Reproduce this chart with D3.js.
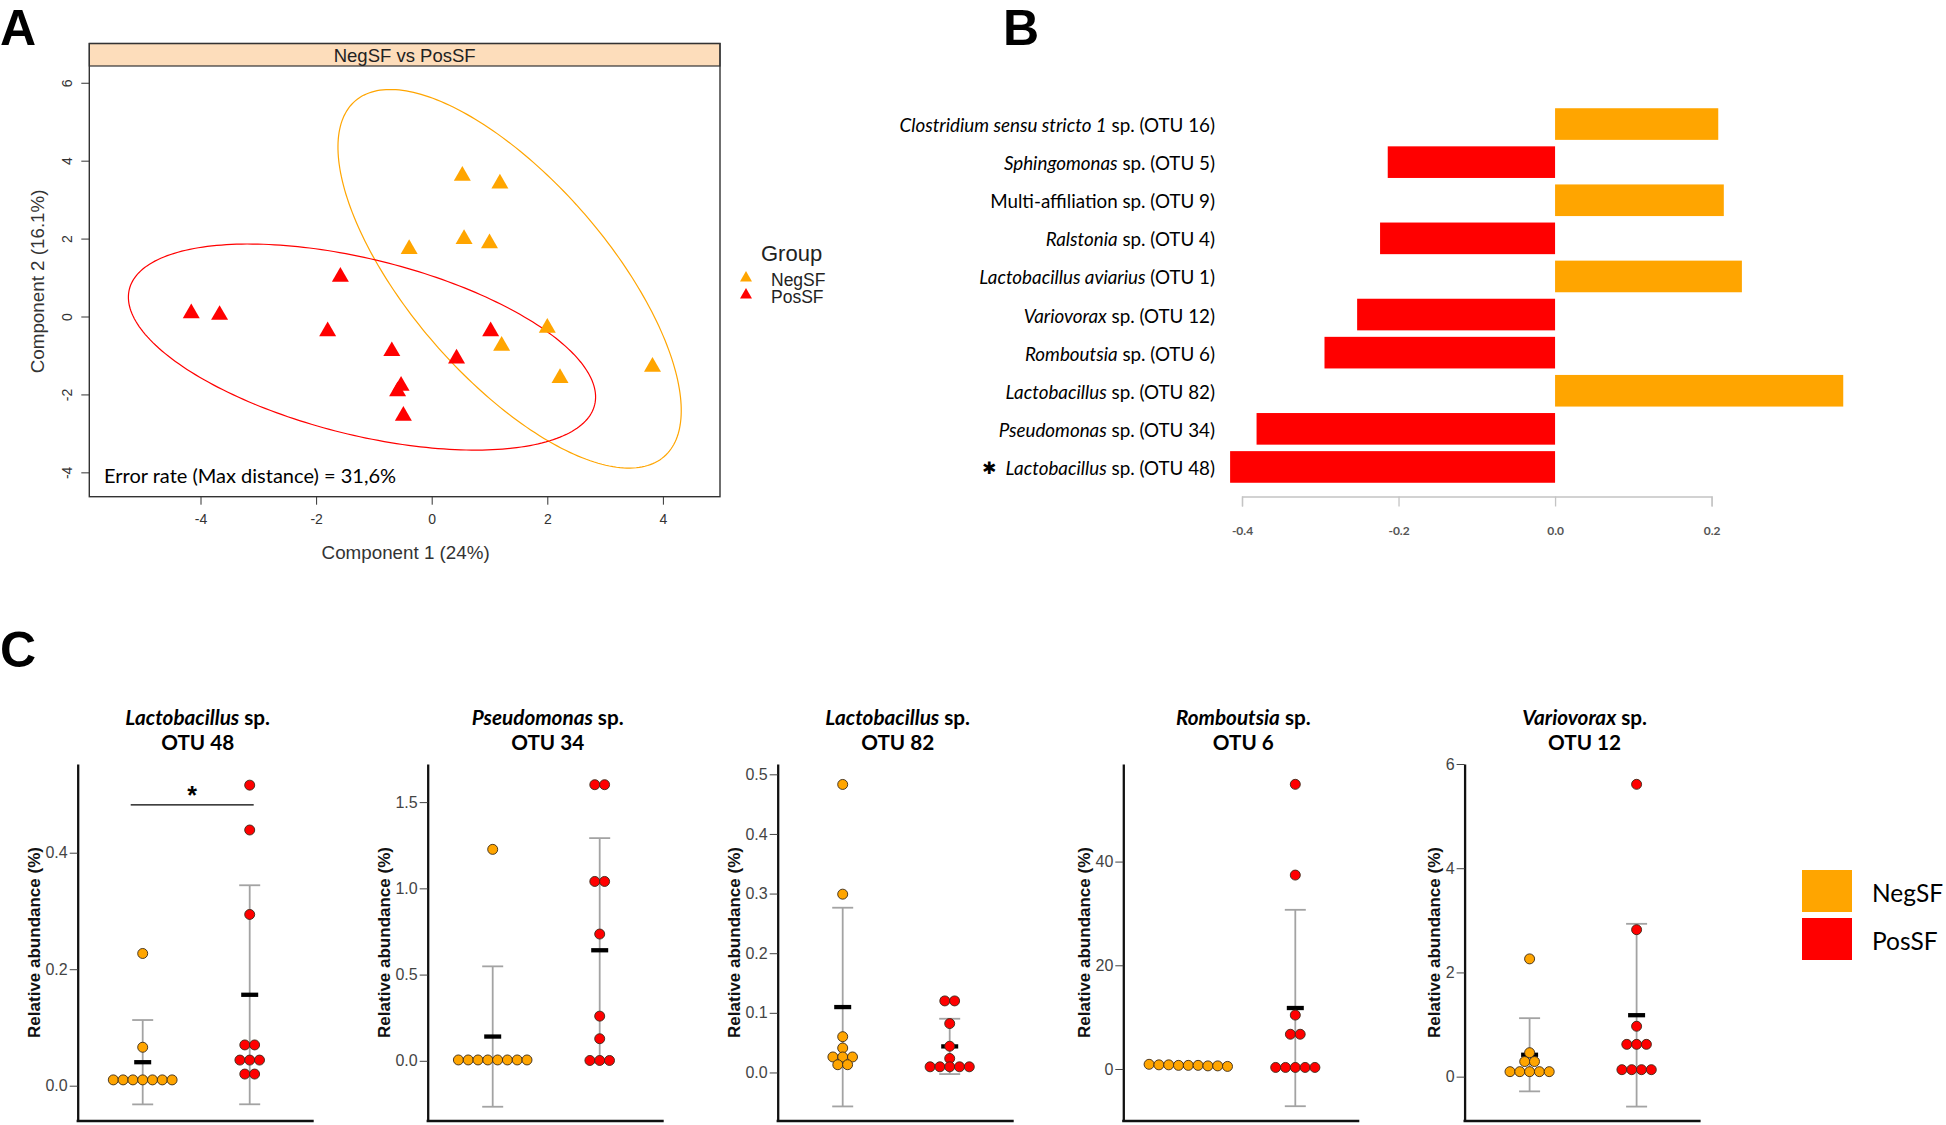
<!DOCTYPE html>
<html><head><meta charset="utf-8">
<script src="https://cdn.jsdelivr.net/npm/d3@7"></script>
<style>body{margin:0;background:#fff} svg{display:block}</style>
</head><body>
<svg id="fig" width="1946" height="1125"></svg>
<script>
// ================= DATA =================
const groups = ["NegSF", "PosSF"];
const groupColors = ["#FFA500", "#FF0000"];

// Panel A : sample coordinates on components 1 and 2
const negComp1 = [0.53, 1.18, 0.56, 1.00, -0.39, 2.00, 1.21, 3.82, 2.22];
const negComp2 = [3.61, 3.41, 1.99, 1.88, 1.73, -0.29, -0.75, -1.29, -1.58];
const posComp1 = [-4.16, -3.67, -1.58, -1.80, -0.69, -0.53, -0.59, -0.49, 0.43, 1.02];
const posComp2 = [0.08, 0.04, 1.02, -0.38, -0.89, -1.78, -1.92, -2.55, -1.08, -0.38];
const aTicksX = [-4, -2, 0, 2, 4];
const aTicksY = [-4, -2, 0, 2, 4, 6];
const aTitle = "NegSF vs PosSF";
const aErrorText = "Error rate (Max distance) = 31,6%";

// Panel B : loadings
const bGenus = ["Clostridium sensu stricto 1", "Sphingomonas", "", "Ralstonia", "Lactobacillus aviarius",
  "Variovorax", "Romboutsia", "Lactobacillus", "Pseudomonas", "Lactobacillus"];
const bRest = [" sp. (OTU 16)", " sp. (OTU 5)", "Multi-affiliation sp. (OTU 9)", " sp. (OTU 4)", " (OTU 1)",
  " sp. (OTU 12)", " sp. (OTU 6)", " sp. (OTU 82)", " sp. (OTU 34)", " sp. (OTU 48)"];
const bLoadings = [0.2085, -0.2138, 0.2156, -0.2236, 0.2387, -0.2529, -0.2946, 0.3682, -0.3814, -0.4152];
const bGroup = ["NegSF", "PosSF", "NegSF", "PosSF", "NegSF", "PosSF", "PosSF", "NegSF", "PosSF", "PosSF"];
const bStar = [false, false, false, false, false, false, false, false, false, true];
const bTicks = [-0.4, -0.2, 0.0, 0.2];

// Panel C : relative abundances (%)
const cGenus = ["Lactobacillus", "Pseudomonas", "Lactobacillus", "Romboutsia", "Variovorax"];
const cOtu = ["OTU 48", "OTU 34", "OTU 82", "OTU 6", "OTU 12"];
const cNeg = [
  [0.01, 0.01, 0.01, 0.01, 0.01, 0.01, 0.01, 0.066, 0.227],
  [0.005, 0.005, 0.005, 0.005, 0.005, 0.005, 0.005, 0.005, 1.226],
  [0.483, 0.299, 0.060, 0.041, 0.026, 0.026, 0.026, 0.013, 0.013],
  [0.9, 0.8, 0.8, 0.7, 0.7, 0.7, 0.6, 0.6, 0.5],
  [2.26, 0.46, 0.29, 0.29, 0.096, 0.096, 0.096, 0.096, 0.096]
];
const cPos = [
  [0.516, 0.439, 0.294, 0.070, 0.070, 0.044, 0.044, 0.044, 0.020, 0.020],
  [1.601, 1.601, 1.040, 1.040, 0.735, 0.259, 0.128, 0.002, 0.002, 0.002],
  [0.120, 0.120, 0.082, 0.044, 0.0235, 0.0095, 0.0095, 0.0095, 0.0095, 0.0095],
  [54.9, 37.4, 10.4, 6.7, 6.7, 0.3, 0.3, 0.3, 0.3, 0.3],
  [5.61, 2.82, 0.967, 0.62, 0.62, 0.62, 0.134, 0.134, 0.134, 0.134]
];
const cTicks = [[0, 0.2, 0.4], [0, 0.5, 1.0, 1.5], [0, 0.1, 0.2, 0.3, 0.4, 0.5], [0, 20, 40], [0, 2, 4, 6]];
const cTickFmt = [".1f", ".1f", ".1f", "d", "d"];
const cDomains = [[-0.0606, 0.5523], [-0.349, 1.721], [-0.0814, 0.5173], [-10.03, 58.82], [-0.851, 6.0]];
const cSignif = [0.482, null, null, null, null];

// ================= DRAW =================
const svg = d3.select("#fig");
const hy = s => s.replace("\u2212", "-");
const RFONT = "'Liberation Sans', Arial, sans-serif";
const CFONT = "Lato, 'Open Sans', sans-serif";

// panel letters
[["A", 0, 45], ["B", 1003, 45], ["C", 0, 667]].forEach(([t, x, y]) => {
  svg.append("text").attr("x", x).attr("y", y).text(t)
    .attr("font-family", RFONT).attr("font-weight", "bold").attr("font-size", 50).attr("fill", "#000");
});

// ---------- Panel A ----------
(function () {
  const L = 89.3, R = 720, T = 43.5, ST = 66, B = 496.7;
  const x = d3.scaleLinear().domain([-5.924, 4.988]).range([L, R]);
  const y = d3.scaleLinear().domain([-4.625, 6.43]).range([B, ST]);
  const g = svg.append("g");

  g.append("rect").attr("x", L).attr("y", ST).attr("width", R - L).attr("height", B - ST)
    .attr("fill", "#fff");
  // strip
  g.append("rect").attr("x", L).attr("y", T).attr("width", R - L).attr("height", ST - T)
    .attr("fill", "#FDDDBB").attr("stroke", "#333").attr("stroke-width", 1.2);
  g.append("text").attr("x", (L + R) / 2).attr("y", (T + ST) / 2 + 1).attr("text-anchor", "middle")
    .attr("dominant-baseline", "central").attr("font-family", RFONT).attr("font-size", 18.5)
    .attr("fill", "#222").text(aTitle);

  // ellipses (95% confidence, computed from the points)
  const tval = Math.sqrt(5.991464547);
  function ellipse(xs, ys) {
    const mx = d3.mean(xs), my = d3.mean(ys), sx = d3.deviation(xs), sy = d3.deviation(ys);
    const cov = d3.sum(xs.map((v, i) => (v - mx) * (ys[i] - my))) / (xs.length - 1);
    const d = Math.acos(cov / (sx * sy));
    return d3.range(241).map(k => {
      const a = 2 * Math.PI * k / 240;
      return [mx + tval * sx * Math.cos(a + d / 2), my + tval * sy * Math.cos(a - d / 2)];
    });
  }
  const line = d3.line().x(d => x(d[0])).y(d => y(d[1])).curve(d3.curveLinearClosed);
  const sets = [[negComp1, negComp2], [posComp1, posComp2]];
  sets.forEach((s, gi) => {
    g.append("path").attr("d", line(ellipse(s[0], s[1]))).attr("fill", "none")
      .attr("stroke", groupColors[gi]).attr("stroke-width", 1.2);
  });
  // triangles
  const tri = d3.symbol().type(d3.symbolTriangle).size(125);
  sets.forEach((s, gi) => {
    g.selectAll(null).data(s[0].map((v, i) => [v, s[1][i]])).join("path")
      .attr("d", tri).attr("transform", d => `translate(${x(d[0])},${y(d[1])})`)
      .attr("fill", groupColors[gi]);
  });
  // box
  g.append("rect").attr("x", L).attr("y", T).attr("width", R - L).attr("height", B - T)
    .attr("fill", "none").attr("stroke", "#333").attr("stroke-width", 1.4);

  // axes
  const ax = g.append("g").attr("transform", `translate(0,${B})`)
    .call(d3.axisBottom(x).tickValues(aTicksX).tickSize(8).tickPadding(9).tickFormat(d => hy(d3.format("d")(d))));
  ax.select(".domain").remove();
  ax.selectAll("line").attr("stroke", "#333");
  ax.selectAll("text").attr("font-family", RFONT).attr("font-size", 14).attr("fill", "#333");

  const ay = g.append("g").attr("transform", `translate(${L},0)`)
    .call(d3.axisLeft(y).tickValues(aTicksY).tickSize(8).tickFormat(d => hy(d3.format("d")(d))));
  ay.select(".domain").remove();
  ay.selectAll("line").attr("stroke", "#333");
  ay.selectAll("text").attr("x", null).attr("dy", null)
    .attr("transform", "translate(-22.6,0) rotate(-90)").attr("text-anchor", "middle")
    .attr("dominant-baseline", "central")
    .attr("font-family", RFONT).attr("font-size", 14).attr("fill", "#333");

  g.append("text").attr("x", (L + R) / 2 + 1).attr("y", 552).attr("text-anchor", "middle")
    .attr("dominant-baseline", "central").attr("font-family", RFONT).attr("font-size", 18.8)
    .attr("fill", "#333").text("Component 1 (24%)");
  g.append("text").attr("transform", `translate(37,${(ST + B) / 2}) rotate(-90)`).attr("text-anchor", "middle")
    .attr("dominant-baseline", "central").attr("font-family", RFONT).attr("font-size", 18.8)
    .attr("fill", "#333").text("Component 2 (16.1%)");

  g.append("text").attr("x", 104).attr("y", 483).attr("font-family", CFONT).attr("font-size", 20)
    .attr("fill", "#000").text(aErrorText);

  // legend
  g.append("text").attr("x", 761).attr("y", 253).attr("dominant-baseline", "central")
    .attr("font-family", RFONT).attr("font-size", 22).attr("fill", "#222").text("Group");
  const triS = d3.symbol().type(d3.symbolTriangle).size(62);
  groups.forEach((gr, i) => {
    g.append("path").attr("d", triS).attr("transform", `translate(746,${278 + i * 17})`).attr("fill", groupColors[i]);
    g.append("text").attr("x", 771).attr("y", 280 + i * 17).attr("dominant-baseline", "central")
      .attr("font-family", RFONT).attr("font-size", 17.5).attr("fill", "#222").text(gr);
  });
})();

// ---------- Panel B ----------
(function () {
  const x = d3.scaleLinear().domain([-0.4, 0.2]).range([1242, 1711.6]);
  const y = d3.scaleBand().domain(d3.range(bLoadings.length)).range([105, 486])
    .paddingInner(0.17).paddingOuter(0.085);
  const g = svg.append("g");
  g.selectAll(null).data(bLoadings).join("rect")
    .attr("x", d => x(Math.min(0, d))).attr("width", d => Math.abs(x(d) - x(0)))
    .attr("y", (d, i) => y(i)).attr("height", y.bandwidth())
    .attr("fill", (d, i) => groupColors[groups.indexOf(bGroup[i])]);

  const lab = g.selectAll(null).data(bLoadings).join("text")
    .attr("x", 1215).attr("y", (d, i) => y(i) + y.bandwidth() / 2).attr("text-anchor", "end")
    .attr("dominant-baseline", "central").attr("font-family", CFONT).attr("font-size", 18.8).attr("fill", "#000");
  lab.append("tspan").attr("font-style", "italic").text((d, i) => bGenus[i]);
  lab.append("tspan").text((d, i) => bRest[i]);

  g.selectAll(null).data(bLoadings.map((d, i) => i).filter(i => bStar[i])).join("text")
    .attr("x", 989).attr("y", i => y(i) + y.bandwidth() / 2 + 1).attr("text-anchor", "middle")
    .attr("dominant-baseline", "central").attr("font-family", "'DejaVu Sans', sans-serif")
    .attr("font-size", 17).attr("fill", "#000").text("\u2731");

  const ax = g.append("g").attr("transform", "translate(0,496.5)")
    .call(d3.axisBottom(x).tickValues(bTicks).tickSize(10).tickSizeOuter(10).tickPadding(20)
      .tickFormat(d => hy(d3.format(".1f")(d))));
  ax.select(".domain").attr("stroke", "#C4C4C4").attr("stroke-width", 1.3);
  ax.selectAll("line").attr("stroke", "#C4C4C4").attr("stroke-width", 1.3);
  ax.selectAll("text").attr("font-family", CFONT).attr("font-size", 12).attr("font-weight", "bold").attr("fill", "#555");
})();

// ---------- Panel C ----------
(function () {
  const panelX = [77.7, 427.7, 777.7, 1123.3, 1464.6];
  const top = 764, bottom = 1121, width = 236;
  const spacing = 9.8, rad = 5;

  function swarm(values, yS) {
    const pts = values.map(v => ({ v, py: yS(v) })).sort((a, b) => a.py - b.py);
    const rows = [];
    pts.forEach(p => {
      const last = rows[rows.length - 1];
      if (last && Math.abs(p.py - last[0].py) < 3) last.push(p); else rows.push([p]);
    });
    rows.forEach(r => r.forEach((p, i) => p.dx = (i - (r.length - 1) / 2) * spacing));
    return pts;
  }

  cGenus.forEach((genus, i) => {
    const g = svg.append("g").attr("transform", `translate(${panelX[i]},0)`);
    const y = d3.scaleLinear().domain(cDomains[i]).range([bottom, top]);
    const x = d3.scalePoint().domain(groups).range([65, 172]);

    // title
    const t1 = g.append("text").attr("x", width / 2 + 2).attr("y", 725).attr("text-anchor", "middle")
      .attr("font-family", CFONT).attr("font-weight", "bold").attr("font-size", 20.7).attr("fill", "#000");
    t1.append("tspan").attr("font-style", "italic").text(genus);
    t1.append("tspan").text(" sp.");
    g.append("text").attr("x", width / 2 + 2).attr("y", 750).attr("text-anchor", "middle")
      .attr("font-family", CFONT).attr("font-weight", "bold").attr("font-size", 20.7).attr("fill", "#000")
      .text(cOtu[i]);

    // axes
    const ay = g.append("g").call(d3.axisLeft(y).tickValues(cTicks[i]).tickSize(8).tickSizeOuter(0)
      .tickPadding(2).tickFormat(d3.format(cTickFmt[i])));
    ay.select(".domain").attr("stroke", "#111").attr("stroke-width", 2.3);
    ay.selectAll(".tick line").attr("stroke", "#444");
    ay.selectAll("text").attr("font-family", RFONT).attr("font-size", 16).attr("fill", "#444");
    let tw = 0;
    ay.selectAll("text").each(function () { tw = Math.max(tw, this.getComputedTextLength()); });
    g.append("line").attr("x1", -1.1).attr("x2", width).attr("y1", bottom).attr("y2", bottom)
      .attr("stroke", "#111").attr("stroke-width", 2.5);
    g.append("text").attr("transform", `translate(${-(tw + 10 + 11)},${(top + bottom) / 2}) rotate(-90)`)
      .attr("text-anchor", "middle").attr("dominant-baseline", "central")
      .attr("font-family", RFONT).attr("font-weight", "bold").attr("font-size", 17).attr("fill", "#111")
      .text("Relative abundance (%)");

    [cNeg[i], cPos[i]].forEach((vals, gi) => {
      const cx = x(groups[gi]);
      const m = d3.mean(vals), sd = d3.deviation(vals);
      const eb = g.append("g").attr("stroke", "#A3A3A3").attr("stroke-width", 1.8);
      eb.append("line").attr("x1", cx).attr("x2", cx).attr("y1", y(m - sd)).attr("y2", y(m + sd));
      [m - sd, m + sd].forEach(v => eb.append("line").attr("x1", cx - 10.5).attr("x2", cx + 10.5)
        .attr("y1", y(v)).attr("y2", y(v)));
      g.append("line").attr("x1", cx - 8.5).attr("x2", cx + 8.5).attr("y1", y(m)).attr("y2", y(m))
        .attr("stroke", "#000").attr("stroke-width", 4.3);
      g.selectAll(null).data(swarm(vals, y)).join("circle")
        .attr("cx", d => cx + d.dx).attr("cy", d => d.py).attr("r", rad)
        .attr("fill", groupColors[gi]).attr("stroke", "#3a2a1a").attr("stroke-width", 0.9);
    });

    if (cSignif[i] !== null) {
      const ys = y(cSignif[i]);
      const x1 = x(groups[0]) - 12, x2 = x(groups[1]) + 4;
      g.append("line").attr("x1", x1).attr("x2", x2).attr("y1", ys).attr("y2", ys)
        .attr("stroke", "#000").attr("stroke-width", 1.2);
      g.append("text").attr("x", (x1 + x2) / 2).attr("y", ys - 0.5).attr("text-anchor", "middle")
        .attr("font-family", RFONT).attr("font-weight", "bold").attr("font-size", 25).attr("fill", "#000").text("*");
    }
  });

  // legend
  groups.forEach((gr, i) => {
    svg.append("rect").attr("x", 1802).attr("y", 870 + i * 48).attr("width", 50).attr("height", 42)
      .attr("fill", groupColors[i]);
    svg.append("text").attr("x", 1872).attr("y", 892 + i * 48).attr("dominant-baseline", "central")
      .attr("font-family", CFONT).attr("font-size", 24.5).attr("fill", "#000").text(gr);
  });
})();
</script>
</body></html>
